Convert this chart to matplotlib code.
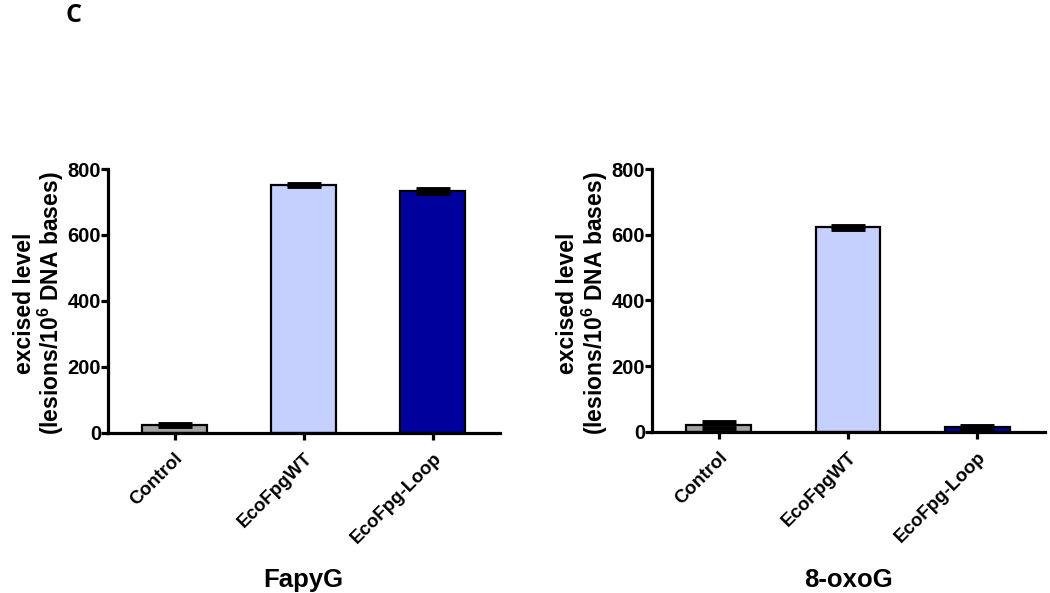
import matplotlib
matplotlib.use("Agg")
import matplotlib.pyplot as plt

plt.rcParams["font.family"] = ["Liberation Sans", "DejaVu Sans"]
plt.rcParams["font.weight"] = "bold"
plt.rcParams["mathtext.fontset"] = "custom"
plt.rcParams["mathtext.rm"] = "Liberation Sans:bold"
plt.rcParams["mathtext.it"] = "Liberation Sans:bold"
plt.rcParams["mathtext.bf"] = "Liberation Sans:bold"

# Dados
categorias = ["Control", "EcoFpgWT", "EcoFpg-Loop"]
cores = ["#A3A3A3", "#C5D0FF", "#00009C"]

fapyg_media = [24, 752, 733]
fapyg_erro = [2, 3, 6]

oxog_media = [20, 622, 14]
oxog_erro = [9, 5, 3]

paineis = [
    ("FapyG", fapyg_media, fapyg_erro, [0.1029, 0.270, 0.373, 0.445]),
    ("8-oxoG", oxog_media, oxog_erro, [0.621, 0.272, 0.374, 0.443]),
]

fig = plt.figure(figsize=(10.5, 5.93), dpi=100)

for nome, media, erro, pos in paineis:
    ax = fig.add_axes(pos)
    x = range(len(categorias))
    ax.bar(x, media, width=0.5, color=cores, edgecolor="black", linewidth=1.6, zorder=2)
    ax.errorbar(x, media, yerr=erro, fmt="none", ecolor="black",
                elinewidth=1.6, capsize=12, capthick=3.5, zorder=3)

    ax.set_xlim(-0.515, 2.52)
    ax.set_ylim(0, 800)
    ax.set_yticks([0, 200, 400, 600, 800])
    ax.set_xticks(list(x))
    ax.set_xticklabels(categorias, rotation=45, ha="right", rotation_mode="anchor",
                       fontsize=13.5, fontweight="bold")
    for lbl in ax.get_yticklabels():
        lbl.set_fontsize(14.5)
        lbl.set_fontweight("bold")

    ax.spines["top"].set_visible(False)
    ax.spines["right"].set_visible(False)
    ax.spines["left"].set_linewidth(2.3)
    ax.spines["bottom"].set_linewidth(2.3)
    ax.tick_params(axis="both", direction="out", length=5, width=2.3)
    ax.tick_params(axis="x", pad=7)
    ax.tick_params(axis="y", pad=0)

    ax.set_ylabel("excised level\n(lesions/10$^{6}$ DNA bases)", fontsize=16.5,
                  fontweight="bold", linespacing=1.0)
    ax.yaxis.set_label_coords(-0.108, 0.49)

    # Título do painel abaixo do gráfico
    cx = pos[0] + pos[2] * (1 + 0.515) / (2.52 + 0.515)
    fig.text(cx, 1 - 587 / 593, nome, ha="center", va="baseline",
             fontsize=18.5, fontweight="bold")

fig.text(0.062, 1 - 15 / 593, "C", ha="left", va="center", fontsize=18,
         fontweight="bold", family=["Open Sans", "DejaVu Sans"])

plt.savefig("out.png", dpi=100)
plt.close()
